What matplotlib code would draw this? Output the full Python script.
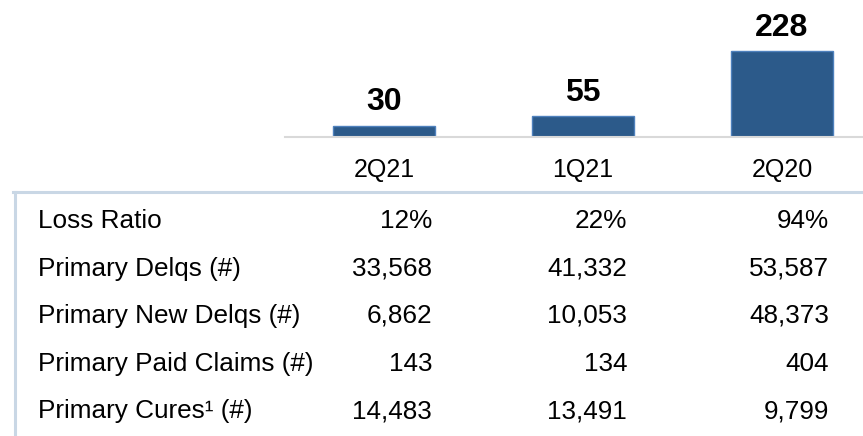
"""
plot.py
Barras de pérdidas por trimestre con tabla de métricas debajo.
"""
import matplotlib
matplotlib.use("Agg")
import matplotlib.pyplot as plt
from matplotlib.lines import Line2D

plt.rcParams["font.family"] = ["Liberation Sans", "DejaVu Sans"]

# ── Datos ─────────────────────────────────────────────────────────────────────
quarters = ["2Q21", "1Q21", "2Q20"]
bar_values = [30, 55, 228]

row_labels = [
    "Loss Ratio",
    "Primary Delqs (#)",
    "Primary New Delqs (#)",
    "Primary Paid Claims (#)",
    "Primary Cures\u00b9 (#)",
]
col_2q21 = ["12%", "33,568", "6,862", "143", "14,483"]
col_1q21 = ["22%", "41,332", "10,053", "134", "13,491"]
col_2q20 = ["94%", "53,587", "48,373", "404", "9,799"]

# ── Estilo ────────────────────────────────────────────────────────────────────
W, H = 863, 436
BAR_CLR = "#2c5a8a"
BAR_EDGE = "#4f81bd"
BASE_CLR = "#d9d9d9"
FRAME_CLR = "#c9d7e5"
TXT = "#000000"
TABLE_FS = 18.8

fig = plt.figure(figsize=(W / 100, H / 100), dpi=100)
fig.patch.set_facecolor("white")

# Eje de barras (coordenadas en píxeles -> fracción de figura)
ax = fig.add_axes([285 / W, (H - 137) / H, (W - 285) / W, 137 / H])
x = list(range(len(quarters)))
bars = ax.bar(x, bar_values, width=0.508, color=BAR_CLR, edgecolor=BAR_EDGE,
              linewidth=1.0)
ax.bar_label(bars, labels=[str(v) for v in bar_values], padding=6,
             fontsize=23, fontweight="bold", color=TXT)

ax.set_xlim(-0.4975, 2.407)
ax.set_ylim(0, 363)
ax.set_xticks(x)
ax.set_xticklabels(quarters, fontsize=18, color=TXT)
ax.tick_params(axis="x", length=0, pad=15)
ax.set_yticks([])
for side in ["top", "left", "right"]:
    ax.spines[side].set_visible(False)
ax.spines["bottom"].set_color(BASE_CLR)
ax.spines["bottom"].set_linewidth(1.5)
ax.patch.set_alpha(0)

# ── Tabla ─────────────────────────────────────────────────────────────────────
def fx(px):
    return px / W


def fy(py):
    return 1 - py / H


top_y = 192.5
fig.add_artist(Line2D([fx(13), 1], [fy(top_y), fy(top_y)], color=FRAME_CLR,
                      linewidth=2.2))
fig.add_artist(Line2D([fx(14.5), fx(14.5)], [fy(top_y), 0], color=FRAME_CLR,
                      linewidth=2.2))

row_y = [221, 268.5, 316, 364, 411]
value_x = [432, 627, 829]
columns = [col_2q21, col_1q21, col_2q20]

for i, label in enumerate(row_labels):
    fig.text(fx(38), fy(row_y[i]), label, ha="left", va="center",
             fontsize=TABLE_FS, color=TXT)
    for col, vx in zip(columns, value_x):
        fig.text(fx(vx), fy(row_y[i]), col[i], ha="right", va="center",
                 fontsize=TABLE_FS, color=TXT)

fig.savefig("out.png", dpi=100, facecolor="white")
